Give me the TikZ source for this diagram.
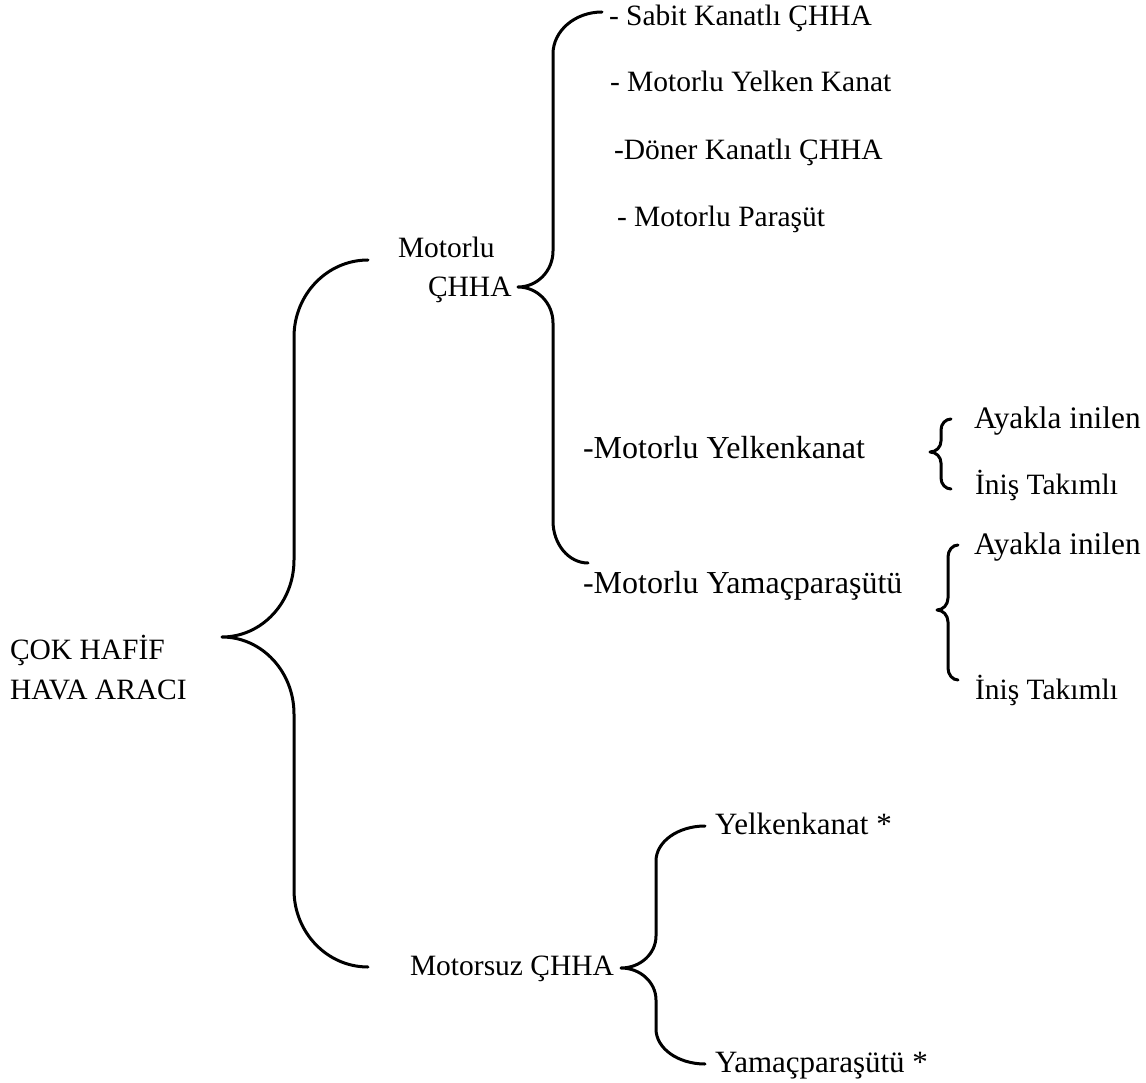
\documentclass[tikz,border=0pt]{standalone}
\usepackage{fontspec}
\setmainfont{Liberation Serif}
\newfontfamily\tnrfont{Liberation Serif}
\begin{document}
\begin{tikzpicture}[x=1pt,y=-1pt,
  lbl/.style={anchor=base west,inner sep=0pt,outer sep=0pt,font=\tnrfont\fontsize{29.5}{34}\selectfont},
  lblb/.style={lbl,font=\tnrfont\fontsize{32}{36}\selectfont},
  lbld/.style={lbl,font=\tnrfont\fontsize{31.3}{36}\selectfont},
  lblc/.style={lbl,font=\tnrfont\fontsize{31}{36}\selectfont},
  brace/.style={line width=3pt,line cap=round,line join=round}]
\useasboundingbox (0,0) rectangle (1146,1083);
\newcommand{\drawbrace}[9]{%
  \draw[brace] (#1,#2) .. controls ({#1-0.552*(#1-#3)},#2) and (#3,{#2+0.448*#8}) .. (#3,{#2+#8})
   -- (#3,{#5-#9}) .. controls (#3,{#5-0.448*#9}) and ({#4+0.552*(#3-#4)},#5) .. (#4,#5)
   .. controls ({#4+0.552*(#3-#4)},#5) and (#3,{#5+0.448*#9}) .. (#3,{#5+#9})
   -- (#3,{#7-#8}) .. controls (#3,{#7-0.448*#8}) and ({#6-0.552*(#6-#3)},#7) .. (#6,#7);}
% root
\node[lbl] (root1) at (10,659) {ÇOK HAFİF};
\node[lbl] (root2) at (10,699) {HAVA ARACI};
% big brace
\drawbrace{368}{260}{294}{222}{637}{368}{967}{77}{77}
% motorlu
\node[lbl] (mot1) at (398,258) {Motorlu};
\node[lbl] (mot2) at (428,297) {ÇHHA};
\drawbrace{602}{12}{553}{518}{287}{588}{563}{42}{36}
\node[lbl] (a1) at (609,26) {- Sabit Kanatlı ÇHHA};
\node[lbl] (a2) at (610,92) {- Motorlu Yelken Kanat};
\node[lbl] (a3) at (614,160) {-Döner Kanatlı ÇHHA};
\node[lbl] (a4) at (617,227) {- Motorlu Paraşüt};
\node[lblb] (a5) at (583,458) {-Motorlu Yelkenkanat};
\node[lblb] (a6) at (583,593) {-Motorlu Yamaçparaşütü};
% small braces
\drawbrace{951}{419}{941}{930}{452}{951}{489}{11}{11}
\node[lbld] (b1) at (974,428) {Ayakla inilen};
\node[lbl] (b2) at (975,494) {İniş Takımlı};
\drawbrace{958}{545}{948}{937}{610}{958}{680}{12}{12}
\node[lbld] (c1) at (974,554) {Ayakla inilen};
\node[lbl] (c2) at (975,699) {İniş Takımlı};
% motorsuz
\node[lbl] (ms) at (410,975) {Motorsuz ÇHHA};
\drawbrace{705}{826}{656}{621}{968}{705}{1064}{35}{32}
\node[lblc] (d1) at (715,834) {Yelkenkanat *};
\node[lblc] (d2) at (715,1072) {Yamaçparaşütü *};
\end{tikzpicture}
\end{document}
